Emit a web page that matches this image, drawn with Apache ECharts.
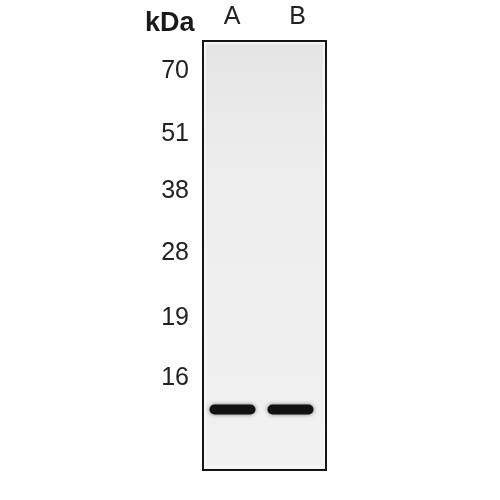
<!DOCTYPE html>
<html>
<head>
<meta charset="utf-8">
<script src="https://cdn.jsdelivr.net/npm/echarts@6/dist/echarts.min.js"></script>
<style>
html, body { margin: 0; padding: 0; background: #fff; }
#blot { width: 500px; height: 500px; }
</style>
</head>
<body>
<div id="blot"></div>
<script>
// marker ladder: kDa label and how far it ran down the gel (px from gel top)
var markerKda = ['70', '51', '38', '28', '19', '16'];
var markerRun = [30, 93, 150, 212, 277, 337];
// lanes
var laneNames = ['A', 'B'];
var laneLabelPos = [29, 94.5];
// detected bands: lane centre, run distance
var bandLane = [29.5, 87.5];
var bandRun = [368.5, 368.5];

var chart = echarts.init(document.getElementById('blot'));

var bands = [];
for (var i = 0; i < bandLane.length; i++) {
  bands.push([bandLane[i], bandRun[i]]);
}

var font = '"Liberation Sans", Arial, sans-serif';

var option = {
  animation: false,
  backgroundColor: '#fff',
  title: {
    text: 'kDa',
    left: 140,
    top: 5,
    textStyle: { fontFamily: font, fontWeight: 'bold', fontSize: 27, color: '#1a1a1a' }
  },
  grid: {
    left: 203, top: 41, right: 174, bottom: 30,
    show: true,
    backgroundColor: new echarts.graphic.LinearGradient(0, 0, 0, 1, [
      { offset: 0, color: '#e5e5e5' },
      { offset: 0.35, color: '#eeeeee' },
      { offset: 1, color: '#f1f1f1' }
    ]),
    borderColor: '#151515',
    borderWidth: 2
  },
  xAxis: {
    type: 'value',
    position: 'top',
    min: 0, max: 123,
    axisLine: { show: false },
    axisTick: { show: false },
    splitLine: { show: false },
    axisLabel: {
      customValues: laneLabelPos,
      margin: 11,
      fontFamily: font,
      fontSize: 25,
      color: '#222',
      formatter: function (v) {
        var k = laneLabelPos.indexOf(v);
        return k >= 0 ? laneNames[k] : '';
      }
    }
  },
  yAxis: {
    type: 'value',
    inverse: true,
    min: 0, max: 429,
    axisLine: { show: false },
    axisTick: { show: false },
    splitLine: { show: false },
    axisLabel: {
      customValues: markerRun,
      margin: 14,
      fontFamily: font,
      fontSize: 25,
      color: '#222',
      formatter: function (v) {
        var k = markerRun.indexOf(v);
        return k >= 0 ? markerKda[k] : '';
      }
    }
  },
  graphic: [{
    type: 'rect',
    shape: { x: 205, y: 43, width: 119, height: 424 },
    style: { fill: 'none', stroke: '#fafafa', lineWidth: 1.5 },
    z: 1
  }],
  series: [{
    type: 'custom',
    data: bands,
    renderItem: function (params, api) {
      var c = api.coord([api.value(0), api.value(1)]);
      return {
        type: 'rect',
        shape: { x: c[0] - 23, y: c[1] - 5, width: 46, height: 10, r: 5 },
        style: { fill: '#111', shadowBlur: 4, shadowColor: 'rgba(0,0,0,0.5)' }
      };
    }
  }]
};
chart.setOption(option);
</script>
</body>
</html>
